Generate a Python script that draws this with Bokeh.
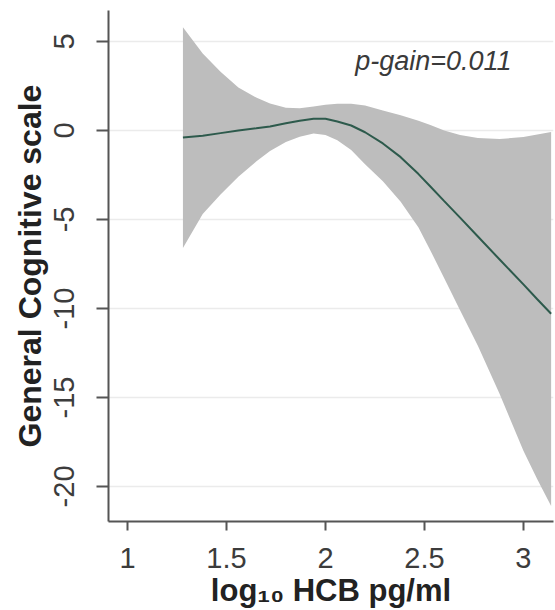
from bokeh.plotting import figure
from bokeh.models import Range1d, FixedTicker, Label, ColumnDataSource
from bokeh.embed import file_html
from bokeh.resources import INLINE

# ---- data ----
log_hcb = [1.28, 1.38, 1.47, 1.56, 1.65, 1.72, 1.80, 1.87, 1.94, 2.00, 2.06, 2.13,
           2.20, 2.29, 2.38, 2.47, 2.53, 2.60, 2.68, 2.77, 2.88, 3.00, 3.07, 3.14]
fit = [-0.39, -0.30, -0.15, 0.00, 0.12, 0.22, 0.40, 0.55, 0.66, 0.66, 0.50, 0.28,
       -0.10, -0.73, -1.50, -2.45, -3.15, -3.97, -4.90, -5.96, -7.25, -8.65, -9.48, -10.30]
upper = [5.80, 4.33, 3.30, 2.42, 1.85, 1.52, 1.27, 1.25, 1.35, 1.45, 1.50, 1.50,
         1.40, 1.12, 0.85, 0.55, 0.30, 0.00, -0.25, -0.42, -0.48, -0.37, -0.22, -0.08]
lower = [-6.60, -4.70, -3.60, -2.60, -1.75, -1.15, -0.65, -0.35, -0.17, -0.25, -0.55, -1.10,
         -1.90, -2.85, -4.00, -5.45, -6.74, -8.30, -10.10, -12.10, -14.80, -18.00, -19.60, -21.10]
x_ticks = [1, 1.5, 2, 2.5, 3]
x_tick_labels = ["1", "1.5", "2", "2.5", "3"]
y_ticks = [5, 0, -5, -10, -15, -20]
y_tick_labels = ["5", "0", "-5", "-10", "-15", "-20"]
annotation = "p-gain=0.011"
x_title = "log\u2081\u2080 HCB pg/ml"
y_title = "General Cognitive scale"

src = ColumnDataSource(dict(x=log_hcb, fit=fit, upper=upper, lower=lower))

FONT = "Liberation Sans"

p = figure(width=555, height=610, output_backend="svg", toolbar_location=None,
           x_range=Range1d(0.904, 3.152), y_range=Range1d(-21.97, 6.74),
           min_border_left=108, min_border_right=2, min_border_top=10, min_border_bottom=89,
           background_fill_color="white", border_fill_color="white")
p.outline_line_color = None

p.varea(x="x", y1="lower", y2="upper", source=src, fill_color="#bdbdbd", fill_alpha=1.0)
p.line(x="x", y="fit", source=src, line_color="#2d5a4c", line_width=2)

p.add_layout(Label(x=2.15, y=3.93, text=annotation, text_font=FONT, text_font_size="27px",
                   text_font_style="italic", text_color="#3a3a3a", text_baseline="middle",
                   text_align="left"))

# grid
p.xgrid.grid_line_color = None
p.ygrid.grid_line_color = "#ebebeb"
p.ygrid.grid_line_width = 1.5
p.ygrid.ticker = FixedTicker(ticks=y_ticks)

# x axis
xa = p.xaxis[0]
xa.ticker = FixedTicker(ticks=x_ticks)
xa.major_label_overrides = dict(zip(x_ticks, x_tick_labels))
xa.axis_label = x_title
xa.axis_label_text_font = FONT
xa.axis_label_text_font_size = "31px"
xa.axis_label_text_font_style = "bold"
xa.axis_label_text_color = "#222222"
xa.axis_label_standoff = 2
xa.major_label_text_font = FONT
xa.major_label_text_font_size = "29px"
xa.major_label_text_color = "#3c3c3c"
xa.major_label_standoff = 17
xa.major_tick_out = 9
xa.major_tick_in = 0
xa.minor_tick_out = 0
xa.minor_tick_in = 0
xa.axis_line_color = "#555555"
xa.axis_line_width = 2
xa.major_tick_line_color = "#555555"
xa.major_tick_line_width = 2

# y axis
ya = p.yaxis[0]
ya.ticker = FixedTicker(ticks=y_ticks)
ya.major_label_overrides = dict(zip(y_ticks, y_tick_labels))
ya.axis_label = y_title
ya.axis_label_text_font = FONT
ya.axis_label_text_font_size = "32px"
ya.axis_label_text_font_style = "bold"
ya.axis_label_text_color = "#222222"
ya.axis_label_standoff = 4
ya.major_label_orientation = "vertical"
ya.major_label_text_font = FONT
ya.major_label_text_font_size = "29px"
ya.major_label_text_color = "#3c3c3c"
ya.major_label_standoff = 22
ya.major_tick_out = 12
ya.major_tick_in = 0
ya.minor_tick_out = 0
ya.minor_tick_in = 0
ya.axis_line_color = "#555555"
ya.axis_line_width = 2
ya.major_tick_line_color = "#555555"
ya.major_tick_line_width = 2

open("out.html", "w").write(file_html(p, INLINE))
